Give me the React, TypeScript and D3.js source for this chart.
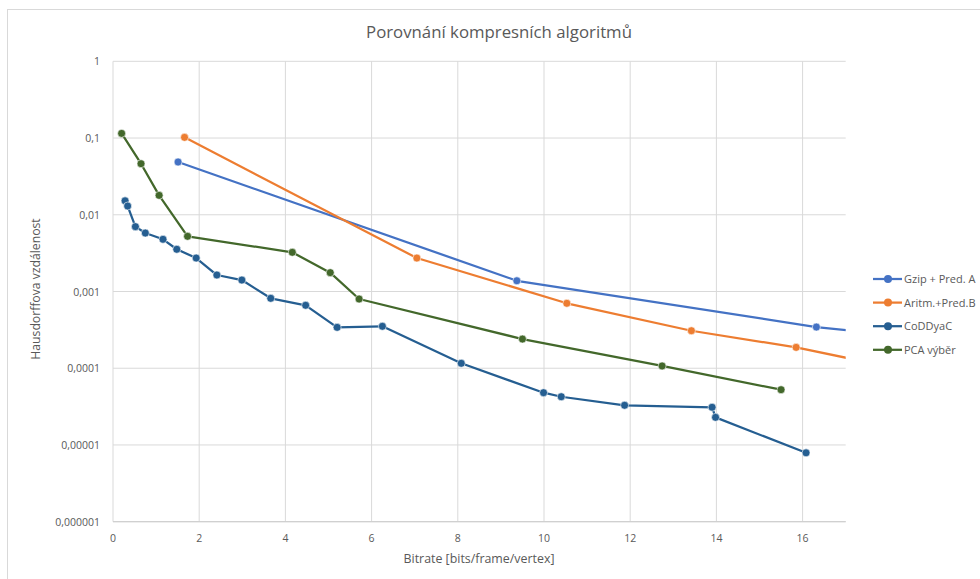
import React from "react";
import * as d3 from "d3";

// data (bitrate vs. Hausdorff distance)
const gzipX = [1.51, 9.37, 16.32, 19.6];
const gzipY = [0.0487, 0.00138, 0.000344, 0.00022];

const aritmX = [1.66, 7.05, 10.53, 13.42, 15.85, 19.0];
const aritmY = [0.102, 0.00273, 0.000702, 0.000308, 0.000187, 0.00008];

const coddyacX = [0.28, 0.34, 0.52, 0.75, 1.16, 1.48, 1.93, 2.41, 2.99, 3.66, 4.47, 5.2, 6.25, 8.08, 9.99, 10.4, 11.87, 13.9, 13.98, 16.08];
const coddyacY = [0.0152, 0.013, 0.007, 0.00578, 0.00479, 0.00355, 0.00273, 0.00164, 0.00141, 0.000815, 0.000661, 0.000341, 0.000352, 0.000116, 0.000048, 0.0000425, 0.0000329, 0.000031, 0.0000229, 0.0000079];

const pcaX = [0.2, 0.65, 1.07, 1.73, 4.16, 5.04, 5.71, 9.5, 12.74, 15.5];
const pcaY = [0.115, 0.0463, 0.0179, 0.00524, 0.00324, 0.00176, 0.000798, 0.00024, 0.000107, 0.0000525];

const seriesNames = ["Gzip + Pred. A", "Aritm.+Pred.B", "CoDDyaC", "PCA výběr"];
const seriesColors = ["#4472C4", "#ED7D31", "#255E91", "#43682B"];

const xTicks = [0, 2, 4, 6, 8, 10, 12, 14, 16];
const yTicks = [1, 0.1, 0.01, 0.001, 0.0001, 0.00001, 0.000001];
const yTickLabels = ["1", "0,1", "0,01", "0,001", "0,0001", "0,00001", "0,000001"];

const title = "Porovnání kompresních algoritmů";
const xTitle = "Bitrate [bits/frame/vertex]";
const yTitle = "Hausdorffova vzdálenost";

const W = 980;
const H = 579;
const plot = { left: 113, right: 845.7, top: 61.3, bottom: 521.7 };
const font = "'Open Sans', 'Liberation Sans', sans-serif";
const textColor = "#595959";
const gridColor = "#D9D9D9";

export default function App() {
  const x = d3.scaleLinear().domain([0, 17]).range([plot.left, plot.right]);
  const y = d3.scaleLog().domain([0.000001, 1]).range([plot.bottom, plot.top]);

  const series = [
    { xs: gzipX, ys: gzipY },
    { xs: aritmX, ys: aritmY },
    { xs: coddyacX, ys: coddyacY },
    { xs: pcaX, ys: pcaY },
  ].map((s, i) => ({
    name: seriesNames[i],
    color: seriesColors[i],
    points: s.xs.map((v, j) => [v, s.ys[j]] as [number, number]),
  }));

  const line = d3
    .line<[number, number]>()
    .x((d) => x(d[0]))
    .y((d) => y(d[1]));

  const legendX = 873;
  const legendY = 279;
  const legendStep = 23.6;

  return (
    <svg width={W} height={H} style={{ position: "absolute", left: 0, top: 0, background: "#fff" }}>
      <defs>
        <clipPath id="plotClip">
          <rect x={plot.left - 6} y={plot.top - 6} width={plot.right - plot.left + 6} height={plot.bottom - plot.top + 12} />
        </clipPath>
      </defs>
      <rect x={0} y={0} width={W} height={H} fill="#fff" />
      {/* chart frame */}
      <rect x={7.5} y={9.5} width={1000} height={600} fill="none" stroke="#D9D9D9" strokeWidth={1} />

      {/* title */}
      <text x={499} y={38} textAnchor="middle" fontFamily={font} fontSize={16.8} fill={textColor}>
        {title}
      </text>

      {/* grid */}
      {xTicks.map((t) => (
        <line key={"gx" + t} x1={x(t)} x2={x(t)} y1={plot.top} y2={plot.bottom} stroke={gridColor} strokeWidth={1} />
      ))}
      {yTicks.map((t) => (
        <line key={"gy" + t} x1={plot.left} x2={plot.right} y1={y(t)} y2={y(t)} stroke={gridColor} strokeWidth={1} />
      ))}
      <line x1={plot.left} x2={plot.right} y1={plot.bottom} y2={plot.bottom} stroke="#D0D0D0" strokeWidth={1.2} />

      {/* tick labels */}
      {xTicks.map((t) => (
        <text key={"xt" + t} x={x(t)} y={plot.bottom + 20} textAnchor="middle" fontFamily={font} fontSize={10.5} fill={textColor}>
          {t}
        </text>
      ))}
      {yTicks.map((t, i) => (
        <text key={"yt" + t} x={100} y={y(t) + 4} textAnchor="end" fontFamily={font} fontSize={10.5} fill={textColor}>
          {yTickLabels[i]}
        </text>
      ))}

      {/* axis titles */}
      <text x={479} y={563} textAnchor="middle" fontFamily={font} fontSize={12.4} fill={textColor}>
        {xTitle}
      </text>
      <text
        transform={`translate(40,${289}) rotate(-90)`}
        textAnchor="middle"
        fontFamily={font}
        fontSize={12.2}
        fill={textColor}
      >
        {yTitle}
      </text>

      {/* series */}
      <g clipPath="url(#plotClip)">
        {series.map((s) => (
          <g key={s.name}>
            <path d={line(s.points) || ""} fill="none" stroke={s.color} strokeWidth={2.25} strokeLinejoin="round" />
            {s.points.map((p, j) => (
              <circle key={j} cx={x(p[0])} cy={y(p[1])} r={4} fill={s.color} stroke="#fff" strokeWidth={0.6} />
            ))}
          </g>
        ))}
      </g>

      {/* legend */}
      {series.map((s, i) => (
        <g key={"lg" + s.name} transform={`translate(${legendX},${legendY + i * legendStep})`}>
          <line x1={0} x2={29} y1={0} y2={0} stroke={s.color} strokeWidth={2.25} />
          <circle cx={15} cy={0} r={4} fill={s.color} />
          <text x={31} y={4} fontFamily={font} fontSize={11} fill={textColor}>
            {s.name}
          </text>
        </g>
      ))}
    </svg>
  );
}
